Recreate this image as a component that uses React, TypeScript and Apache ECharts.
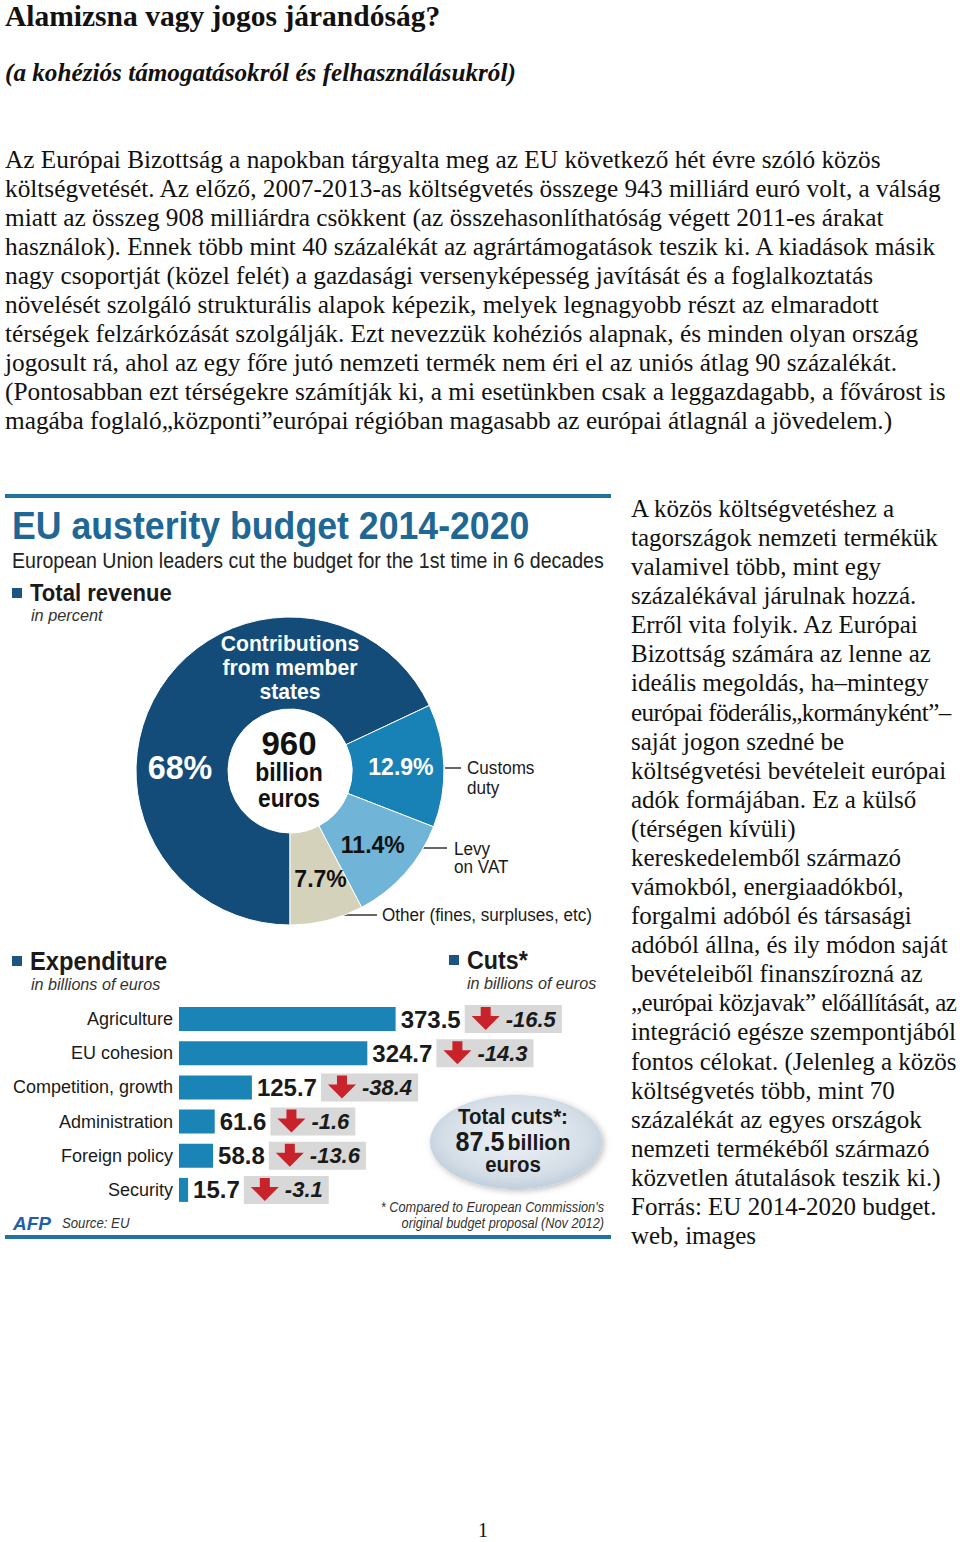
import React, { useEffect, useRef } from 'react';
import * as echarts from 'echarts';

// ---------- data ----------
const revenueNames = ['Contributions from member states', 'Customs duty', 'Levy on VAT', 'Other (fines, surpluses, etc)'];
const revenueShares = [68, 12.9, 11.4, 7.7];
const totalRevenue = 960;

const expCategories = ['Agriculture', 'EU cohesion', 'Competition, growth', 'Administration', 'Foreign policy', 'Security'];
const expValues = [373.5, 324.7, 125.7, 61.6, 58.8, 15.7];
const cutValues = [-16.5, -14.3, -38.4, -1.6, -13.6, -3.1];

const headline = 'Alamizsna vagy jogos járandóság?';
const subheadline = '(a kohéziós támogatásokról és felhasználásukról)';
const introLines = [
  'Az Európai Bizottság a napokban tárgyalta meg az EU következő hét évre szóló közös',
  'költségvetését. Az előző, 2007-2013-as költségvetés összege 943 milliárd euró volt, a válság',
  'miatt az összeg 908 milliárdra csökkent (az összehasonlíthatóság végett 2011-es árakat',
  'használok). Ennek több mint 40 százalékát az agrártámogatások teszik ki. A kiadások másik',
  'nagy csoportját (közel felét) a gazdasági versenyképesség javítását és a foglalkoztatás',
  'növelését szolgáló strukturális alapok képezik, melyek legnagyobb részt az elmaradott',
  'térségek felzárkózását szolgálják. Ezt nevezzük kohéziós alapnak, és minden olyan ország',
  'jogosult rá, ahol az egy főre jutó nemzeti termék nem éri el az uniós átlag 90 százalékát.',
  '(Pontosabban ezt térségekre számítják ki, a mi esetünkben csak a leggazdagabb, a fővárost is',
  'magába foglaló„központi”európai régióban magasabb az európai átlagnál a jövedelem.)',
];
const sideLines = [
  'A közös költségvetéshez a',
  'tagországok nemzeti termékük',
  'valamivel több, mint egy',
  'százalékával járulnak hozzá.',
  'Erről vita folyik. Az Európai',
  'Bizottság számára az lenne az',
  'ideális megoldás, ha–mintegy',
  'európai föderális„kormányként”–',
  'saját jogon szedné be',
  'költségvetési bevételeit európai',
  'adók formájában. Ez a külső',
  '(térségen kívüli)',
  'kereskedelemből származó',
  'vámokból, energiaadókból,',
  'forgalmi adóból és társasági',
  'adóból állna, és ily módon saját',
  'bevételeiből finanszírozná az',
  '„európai közjavak” előállítását, az',
  'integráció egésze szempontjából',
  'fontos célokat. (Jelenleg a közös',
  'költségvetés több, mint 70',
  'százalékát az egyes országok',
  'nemzeti termékéből származó',
  'közvetlen átutalások teszik ki.)',
  'Forrás: EU 2014-2020 budget.',
  'web, images',
];

// ---------- styling ----------
const SANS = 'Liberation Sans';
const SERIF = "'Liberation Serif', 'Times New Roman', serif";
const NAVY = '#134b79';
const BLUE = '#1a84b7';
const DARK = '#1a1a1a';

let measureCtx: CanvasRenderingContext2D | null = null;
function textWidth(text: string, font: string): number {
  if (!measureCtx) measureCtx = document.createElement('canvas').getContext('2d');
  if (!measureCtx) return text.length * 12;
  measureCtx.font = font;
  return measureCtx.measureText(text).width;
}

function txt(x: number, y: number, text: string, o: any = {}) {
  return {
    type: 'text',
    x,
    y,
    scaleX: o.scaleX ?? 1,
    z: 20,
    silent: true,
    style: {
      text,
      fontFamily: SANS,
      fontSize: o.fontSize ?? 18,
      fontWeight: o.fontWeight ?? 'normal',
      fontStyle: o.fontStyle ?? 'normal',
      fill: o.fill ?? DARK,
      align: o.align ?? 'left',
      verticalAlign: 'middle',
    },
  };
}

function buildOption(): any {
  const totalCuts = (-cutValues.reduce((a, b) => a + b, 0)).toFixed(1);
  const pieData = revenueNames.map((name, i) => {
    const item: any = { name, value: revenueShares[i] };
    if (i === 0) item.label = { show: false };
    if (i === 1) item.label = { color: '#ffffff' };
    if (i === 3) item.label = { padding: [24, 0, 0, 8] };
    return item;
  });

  const graphic: any[] = [
    // rules
    { type: 'rect', silent: true, shape: { x: 5, y: 494, width: 606, height: 4 }, style: { fill: '#2373a2' } },
    { type: 'rect', silent: true, shape: { x: 5, y: 1235, width: 606, height: 4 }, style: { fill: '#2373a2' } },
    // header
    txt(12, 525, 'EU austerity budget 2014-2020', { fontSize: 39, fontWeight: 'bold', fill: '#1f6794', scaleX: 0.915 }),
    txt(12, 560, 'European Union leaders cut the budget for the 1st time in 6 decades', { fontSize: 22, fill: '#222', scaleX: 0.89 }),
    { type: 'rect', silent: true, shape: { x: 12, y: 588, width: 10, height: 10 }, style: { fill: '#1c5583' } },
    txt(30, 593, 'Total revenue', { fontSize: 24, fontWeight: 'bold', scaleX: 0.92 }),
    txt(31, 615, 'in percent', { fontSize: 17, fontStyle: 'italic', fill: '#333', scaleX: 0.96 }),
    // pie annotations
    txt(290, 643, 'Contributions', { fontSize: 22, fontWeight: 'bold', fill: '#fff', align: 'center', scaleX: 0.96 }),
    txt(290, 667, 'from member', { fontSize: 22, fontWeight: 'bold', fill: '#fff', align: 'center', scaleX: 0.96 }),
    txt(290, 691, 'states', { fontSize: 22, fontWeight: 'bold', fill: '#fff', align: 'center', scaleX: 0.96 }),
    txt(180, 767, `${revenueShares[0]}%`, { fontSize: 34, fontWeight: 'bold', fill: '#fff', align: 'center', scaleX: 0.95 }),
    txt(289, 743, String(totalRevenue), { fontSize: 33, fontWeight: 'bold', fill: '#111', align: 'center' }),
    txt(289, 772, 'billion', { fontSize: 25, fontWeight: 'bold', fill: '#111', align: 'center', scaleX: 0.92 }),
    txt(289, 798, 'euros', { fontSize: 25, fontWeight: 'bold', fill: '#111', align: 'center', scaleX: 0.91 }),
    // leader lines
    { type: 'line', silent: true, shape: { x1: 445, y1: 768, x2: 461, y2: 768 }, style: { stroke: '#333', lineWidth: 1.5 } },
    { type: 'line', silent: true, shape: { x1: 423, y1: 848, x2: 447, y2: 848 }, style: { stroke: '#333', lineWidth: 1.5 } },
    { type: 'line', silent: true, shape: { x1: 339, y1: 915, x2: 377, y2: 915 }, style: { stroke: '#333', lineWidth: 1.5 } },
    txt(467, 768, 'Customs', { fontSize: 19, scaleX: 0.9 }),
    txt(467, 788, 'duty', { fontSize: 19, scaleX: 0.9 }),
    txt(454, 849, 'Levy', { fontSize: 19, scaleX: 0.9 }),
    txt(454, 867, 'on VAT', { fontSize: 19, scaleX: 0.9 }),
    txt(382, 915, 'Other (fines, surpluses, etc)', { fontSize: 19, scaleX: 0.9 }),
    // expenditure header
    { type: 'rect', silent: true, shape: { x: 12, y: 956, width: 10, height: 10 }, style: { fill: '#1c5583' } },
    txt(30, 961, 'Expenditure', { fontSize: 25, fontWeight: 'bold', scaleX: 0.95 }),
    txt(31, 984, 'in billions of euros', { fontSize: 17, fontStyle: 'italic', fill: '#333', scaleX: 0.95 }),
    { type: 'rect', silent: true, shape: { x: 449, y: 955, width: 10, height: 10 }, style: { fill: '#1c5583' } },
    txt(467, 960, 'Cuts*', { fontSize: 25, fontWeight: 'bold', scaleX: 0.93 }),
    txt(467, 983, 'in billions of euros', { fontSize: 17, fontStyle: 'italic', fill: '#333', scaleX: 0.95 }),
    // total cuts bubble
    {
      type: 'ellipse',
      silent: true,
      shape: { cx: 516, cy: 1142, rx: 86, ry: 47 },
      style: {
        fill: new echarts.graphic.RadialGradient(0.5, 0.45, 0.6, [
          { offset: 0, color: '#eef2f6' },
          { offset: 0.7, color: '#d4dee7' },
          { offset: 1, color: '#b9cad8' },
        ]),
        shadowBlur: 6,
        shadowOffsetX: 2,
        shadowOffsetY: 2,
        shadowColor: 'rgba(0,0,0,0.25)',
      },
    },
    txt(513, 1117, 'Total cuts*:', { fontSize: 22, fontWeight: 'bold', align: 'center', scaleX: 0.93 }),
    {
      type: 'text',
      x: 513,
      y: 1142,
      z: 20,
      silent: true,
      scaleX: 0.93,
      style: {
        text: `{big|${totalCuts}} {small|billion}`,
        align: 'center',
        verticalAlign: 'middle',
        fill: DARK,
        rich: {
          big: { fontFamily: SANS, fontSize: 27, fontWeight: 'bold', fill: DARK },
          small: { fontFamily: SANS, fontSize: 23, fontWeight: 'bold', fill: DARK },
        },
      },
    },
    txt(513, 1165, 'euros', { fontSize: 22, fontWeight: 'bold', align: 'center', scaleX: 0.93 }),
    // footnotes
    txt(604, 1207, "* Compared to European Commission's", { fontSize: 14, fontStyle: 'italic', fill: '#333', align: 'right', scaleX: 0.91 }),
    txt(604, 1223, 'original budget proposal (Nov 2012)', { fontSize: 14, fontStyle: 'italic', fill: '#333', align: 'right', scaleX: 0.91 }),
    txt(13, 1223, 'AFP', { fontSize: 19, fontWeight: 'bold', fontStyle: 'italic', fill: '#1f5fa6', scaleX: 1 }),
    txt(62, 1223, 'Source: EU', { fontSize: 15, fontStyle: 'italic', fill: '#333', scaleX: 0.88 }),
  ];

  return {
    animation: false,
    backgroundColor: 'transparent',
    textStyle: { fontFamily: SANS },
    grid: { left: 179, top: 1002, width: 0.58 * 700, height: 205, containLabel: false },
    xAxis: { type: 'value', min: 0, max: 700, show: false },
    yAxis: {
      type: 'category',
      data: expCategories,
      inverse: true,
      axisLine: { show: false },
      axisTick: { show: false },
      splitLine: { show: false },
      axisLabel: { fontSize: 18, color: DARK, margin: 6, fontFamily: SANS },
    },
    series: [
      {
        type: 'pie',
        center: [290, 771],
        radius: [62, 154],
        startAngle: 270,
        clockwise: true,
        silent: true,
        data: pieData,
        color: [NAVY, '#1882b6', '#70b4d7', '#d5d2bc'],
        itemStyle: { borderColor: '#ffffff', borderWidth: 1 },
        label: {
          show: true,
          position: 'inside',
          formatter: '{c}%',
          fontFamily: SANS,
          fontSize: 23,
          fontWeight: 'bold',
          color: '#111',
        },
        labelLine: { show: false },
        emphasis: { disabled: true },
      },
      {
        type: 'bar',
        data: expValues,
        barWidth: 24,
        silent: true,
        itemStyle: { color: BLUE },
        label: {
          show: true,
          position: 'right',
          distance: 5,
          fontFamily: SANS,
          fontSize: 24,
          fontWeight: 'bold',
          color: DARK,
        },
      },
      {
        type: 'custom',
        silent: true,
        z: 3,
        data: expValues.map((v, i) => [v, i, cutValues[i]]),
        encode: { x: 0, y: 1 },
        renderItem: (params: any, api: any) => {
          const val = api.value(0) as number;
          const idx = api.value(1) as number;
          const cut = api.value(2) as number;
          const p = api.coord([val, idx]);
          const vw = textWidth(String(val), `bold 24px ${SANS}`);
          const x0 = p[0] + 5 + vw + 4;
          const cy = p[1];
          const cutStr = cut.toFixed(1);
          const cw = textWidth(cutStr, `italic bold 22px ${SANS}`);
          const ax = x0 + 21;
          return {
            type: 'group',
            children: [
              { type: 'rect', shape: { x: x0, y: cy - 14, width: 41 + cw + 6, height: 28 }, style: { fill: '#d8d8d8' } },
              {
                type: 'polygon',
                shape: {
                  points: [
                    [ax - 5, cy - 12],
                    [ax + 5, cy - 12],
                    [ax + 5, cy - 3],
                    [ax + 14, cy - 3],
                    [ax, cy + 11],
                    [ax - 14, cy - 3],
                    [ax - 5, cy - 3],
                  ],
                },
                style: { fill: '#c8232b' },
              },
              {
                type: 'text',
                x: x0 + 41,
                y: cy,
                style: {
                  text: cutStr,
                  fontFamily: SANS,
                  fontSize: 22,
                  fontWeight: 'bold',
                  fontStyle: 'italic',
                  fill: DARK,
                  align: 'left',
                  verticalAlign: 'middle',
                },
              },
            ],
          };
        },
      },
    ],
    graphic,
  };
}

export default function App() {
  const ref = useRef<HTMLDivElement>(null);
  useEffect(() => {
    if (!ref.current) return;
    const chart = echarts.init(ref.current, null, { renderer: 'svg' });
    chart.setOption(buildOption());
    return () => chart.dispose();
  }, []);

  const lineStyle = (top: number, left: number, size: number): React.CSSProperties => ({
    position: 'absolute',
    left,
    top,
    height: 29,
    lineHeight: '29px',
    fontSize: size,
    fontFamily: SERIF,
    color: '#111',
    whiteSpace: 'nowrap',
  });

  return (
    <div style={{ position: 'absolute', left: 0, top: 0, width: 960, height: 1542, background: '#fff', overflow: 'hidden' }}>
      <div ref={ref} style={{ position: 'absolute', left: 0, top: 0, width: 960, height: 1542 }} />
      <div style={{ ...lineStyle(0, 5, 29.5), fontWeight: 'bold', height: 32, lineHeight: '32px' }}>{headline}</div>
      <div style={{ ...lineStyle(57, 5, 25.2), fontWeight: 'bold', fontStyle: 'italic', height: 32, lineHeight: '32px' }}>{subheadline}</div>
      {introLines.map((l, i) => (
        <div key={'i' + i} style={lineStyle(161 + i * 29 - 16, 5, 25.3)}>{l}</div>
      ))}
      {sideLines.map((l, i) => (
        <div
          key={'s' + i}
          style={{ ...lineStyle(510 + i * 29.08 - 16, 631, 25), letterSpacing: /[„”]/.test(l) ? '-0.5px' : 'normal' }}
        >
          {l}
        </div>
      ))}
      <div style={{ ...lineStyle(1516, 478, 20) }}>1</div>
    </div>
  );
}
